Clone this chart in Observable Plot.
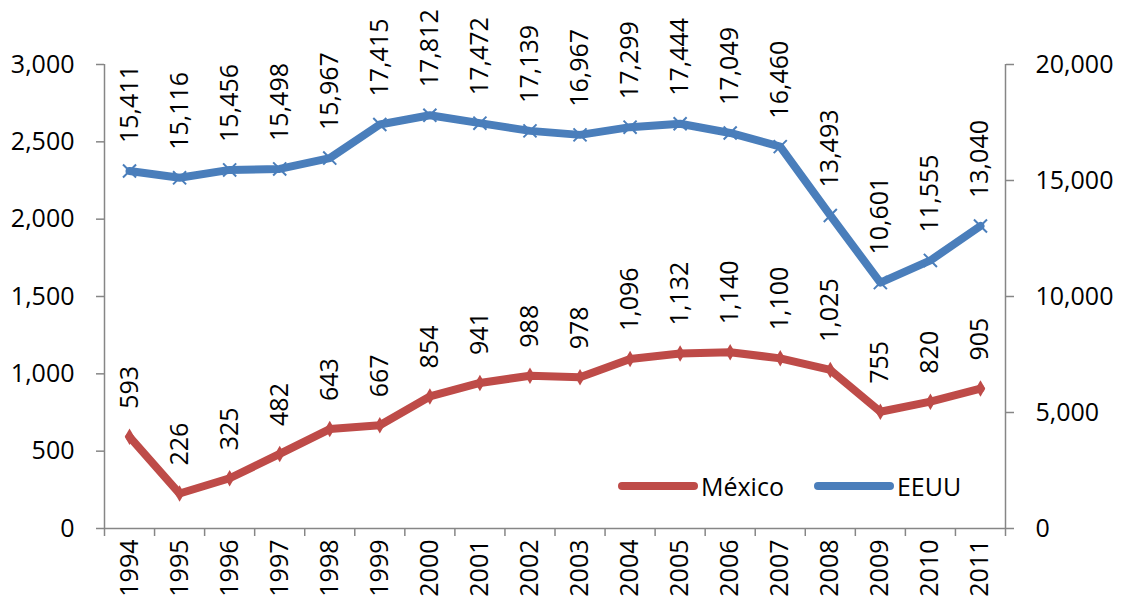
<!DOCTYPE html>
<html>
<head>
<meta charset="utf-8">
<script src="https://cdn.jsdelivr.net/npm/d3@7"></script>
<script src="https://cdn.jsdelivr.net/npm/@observablehq/plot@0.6"></script>
<style>
  body { margin: 0; background: #fff; }
  #wrap { position: relative; width: 1123px; height: 609px; font-family: "Open Sans", sans-serif; }
  #legend { position: absolute; left: 618px; top: 469px; display: flex; align-items: center; font-size: 25px; color: #000; }
  #legend .item { display: flex; align-items: center; margin-right: 30px; }
  #legend svg { display: block; margin-right: 3px; }
</style>
</head>
<body>
<div id="wrap"><div id="legend"></div></div>
<script>
const years = [1994,1995,1996,1997,1998,1999,2000,2001,2002,2003,2004,2005,2006,2007,2008,2009,2010,2011];
const mexico = [593,226,325,482,643,667,854,941,988,978,1096,1132,1140,1100,1025,755,820,905];
const eeuu = [15411,15116,15456,15498,15967,17415,17812,17472,17139,16967,17299,17444,17049,16460,13493,10601,11555,13040];
const leftTicks = [0,500,1000,1500,2000,2500,3000];
const rightTicks = [0,5000,10000,15000,20000];
const seriesNames = ["México", "EEUU"];
const seriesColors = ["#BE4B48", "#4A7EBB"];
const leftMax = 3000, rightMax = 20000;
const k = leftMax / rightMax;

const fmt = d3.format(",");
const mexData = years.map((year, i) => ({year, value: mexico[i], y: mexico[i]}));
const usData = years.map((year, i) => ({year, value: eeuu[i], y: eeuu[i] * k}));
const bounds = [...years.map(y => y - 0.5), years[years.length - 1] + 0.5];
const axisGray = "#868686";
const fs = 25;

const plot = Plot.plot({
  width: 1123,
  height: 609,
  marginLeft: 104,
  marginRight: 118,
  marginTop: 64,
  marginBottom: 81,
  style: {fontFamily: "'Open Sans', sans-serif", fontSize: fs + "px", color: "#000", background: "transparent", overflow: "visible"},
  x: {domain: [bounds[0], bounds[bounds.length - 1]]},
  y: {domain: [0, leftMax]},
  marks: [
    Plot.ruleY([0], {stroke: axisGray, strokeWidth: 1.5}),
    Plot.ruleX([bounds[0]], {y1: 0, y2: leftMax, stroke: axisGray, strokeWidth: 1.5}),
    Plot.ruleX([bounds[bounds.length - 1]], {y1: 0, y2: leftMax, stroke: axisGray, strokeWidth: 1.5}),
    Plot.axisY({ticks: leftTicks, tickSize: 8, tickPadding: 22, tickFormat: fmt, stroke: axisGray, strokeWidth: 1.5, fontSize: fs, label: null}),
    Plot.axisY({anchor: "right", ticks: rightTicks.map(v => v * k), tickSize: 8, tickPadding: 22, tickFormat: d => fmt(Math.round(d / k)), stroke: axisGray, strokeWidth: 1.5, fontSize: fs, label: null}),
    Plot.axisX({ticks: bounds, tickSize: 8, tickFormat: () => "", stroke: axisGray, strokeWidth: 1.5, label: null}),
    Plot.axisX({ticks: years, tickSize: 0, tickPadding: 11, tickRotate: -90, tickFormat: d => String(d), fontSize: fs, label: null}),
    Plot.line(mexData, {x: "year", y: "y", stroke: seriesColors[0], strokeWidth: 8, strokeLinejoin: "round", strokeLinecap: "round"}),
    Plot.line(usData, {x: "year", y: "y", stroke: seriesColors[1], strokeWidth: 8, strokeLinejoin: "round", strokeLinecap: "round"}),
    Plot.dot(mexData, {x: "year", y: "y", symbol: "diamond", r: 5, fill: seriesColors[0]}),
    Plot.dot(usData, {x: "year", y: "y", symbol: "times", r: 6, stroke: seriesColors[1], strokeWidth: 2}),
    Plot.text(mexData, {x: "year", y: "y", text: d => fmt(d.value), rotate: -90, textAnchor: "start", dy: -28, fontSize: fs, fill: "#000"}),
    Plot.text(usData, {x: "year", y: "y", text: d => fmt(d.value), rotate: -90, textAnchor: "start", dy: -28, fontSize: fs, fill: "#000"})
  ]
});
document.getElementById("wrap").prepend(plot);

const legend = document.getElementById("legend");
seriesNames.forEach((name, i) => {
  const item = document.createElement("div");
  item.className = "item";
  item.innerHTML = `<svg width="80" height="14"><line x1="4" y1="7" x2="76" y2="7" stroke="${seriesColors[i]}" stroke-width="8" stroke-linecap="round"/></svg><span>${name}</span>`;
  legend.appendChild(item);
});
</script>
</body>
</html>
